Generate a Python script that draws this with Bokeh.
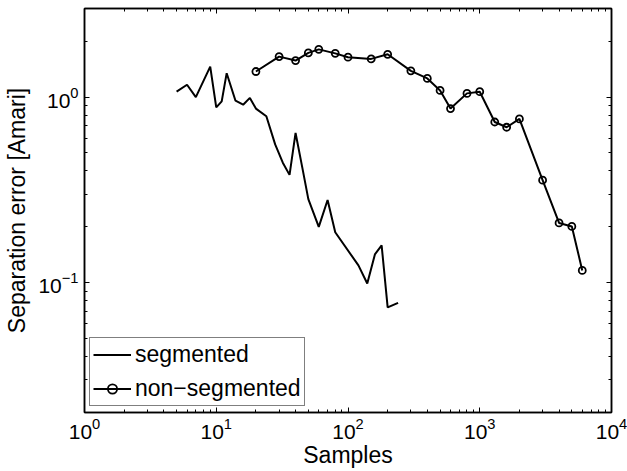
from bokeh.plotting import figure
from bokeh.models import LogAxis, FixedTicker, Range1d, Legend, LegendItem, CustomJSTickFormatter
from bokeh.embed import file_html
from bokeh.resources import INLINE

# segmented
seg_x = [5, 6, 7, 9, 10, 11, 12, 14, 16, 18, 20, 24, 28, 32, 36, 40, 45, 50, 60, 70, 80, 120, 140, 160, 180, 200, 240]
seg_y = [1.07, 1.165, 1.0, 1.46, 0.88, 0.948, 1.345, 0.956, 0.91, 0.99, 0.867, 0.788, 0.556, 0.443, 0.381,
         0.641, 0.417, 0.282, 0.2, 0.279, 0.187, 0.124, 0.099, 0.142, 0.159, 0.0736, 0.0779]

# non-segmented
nonseg_x = [20, 30, 40, 50, 60, 80, 100, 150, 200, 300, 400, 500, 600, 800, 1000, 1300, 1600, 2000, 3000, 4000, 5000, 6000]
nonseg_y = [1.373, 1.652, 1.573, 1.73, 1.807, 1.72, 1.64, 1.606, 1.70, 1.385, 1.26, 1.086, 0.867, 1.047, 1.069,
            0.734, 0.688, 0.763, 0.357, 0.21, 0.201, 0.1165]

x_major = [1, 10, 100, 1000, 10000]
y_major = [0.01, 0.1, 1, 10]
x_minor = [m * 10 ** d for d in range(0, 4) for m in range(2, 10)]
y_minor = [m * 10.0 ** d for d in (-2, -1, 0) for m in range(2, 10)]

FONT = "Liberation Sans"

p = figure(x_axis_type="log", y_axis_type="log",
           x_range=Range1d(1, 1e4), y_range=Range1d(0.02, 3),
           frame_width=527, frame_height=404,
           min_border_left=84, min_border_right=16, min_border_top=8, min_border_bottom=56,
           output_backend="svg", toolbar_location=None)

p.grid.visible = False
p.outline_line_color = "black"
p.outline_line_width = 1.5


def style_axis(ax, ticker, labels=True):
    ax.ticker = ticker
    ax.axis_line_color = "black"
    ax.axis_line_width = 1.5
    ax.major_tick_in = 5
    ax.major_tick_out = 0
    ax.minor_tick_in = 3
    ax.minor_tick_out = 0
    ax.major_tick_line_color = "black"
    ax.minor_tick_line_color = "black"
    ax.major_tick_line_width = 1
    ax.minor_tick_line_width = 1
    if labels:
        ax.major_label_text_font = FONT
        ax.major_label_text_font_size = "21px"
        ax.major_label_text_color = "black"
        ax.axis_label_text_font = FONT
        ax.axis_label_text_font_size = "23px"
        ax.axis_label_text_font_style = "normal"
        ax.axis_label_text_color = "black"
    else:
        ax.formatter = CustomJSTickFormatter(code="return ''")
        ax.major_label_text_font_size = "1px"
        ax.major_label_standoff = 0


style_axis(p.xaxis[0], FixedTicker(ticks=x_major, minor_ticks=x_minor))
style_axis(p.yaxis[0], FixedTicker(ticks=y_major, minor_ticks=y_minor))
p.xaxis.axis_label = "Samples"
p.yaxis.axis_label = "Separation error [Amari]"
p.xaxis.major_label_standoff = 5
p.xaxis.axis_label_standoff = 0
p.yaxis.major_label_standoff = 6
p.yaxis.axis_label_standoff = 5

top = LogAxis()
style_axis(top, FixedTicker(ticks=x_major, minor_ticks=x_minor), labels=False)
p.add_layout(top, "above")
right = LogAxis()
style_axis(right, FixedTicker(ticks=y_major, minor_ticks=y_minor), labels=False)
p.add_layout(right, "right")

r1 = p.line(seg_x, seg_y, line_color="black", line_width=2)
r2 = p.line(nonseg_x, nonseg_y, line_color="black", line_width=2)
r3 = p.scatter(nonseg_x, nonseg_y, marker="circle", size=7, fill_color=None,
               line_color="black", line_width=1.8)

legend = Legend(items=[LegendItem(label="segmented", renderers=[r1]),
                       LegendItem(label="non\u2212segmented", renderers=[r2, r3])],
                location=(5, 6))
legend.label_text_font = FONT
legend.label_text_font_size = "23px"
legend.label_text_color = "black"
legend.border_line_color = "black"
legend.border_line_width = 1.5
legend.background_fill_color = "white"
legend.background_fill_alpha = 1
legend.glyph_width = 38
legend.glyph_height = 23
legend.label_height = 23
legend.label_standoff = 4
legend.spacing = 7
legend.padding = 3
legend.margin = 0
p.add_layout(legend, "center")

open("out.html", "w").write(file_html(p, INLINE))
